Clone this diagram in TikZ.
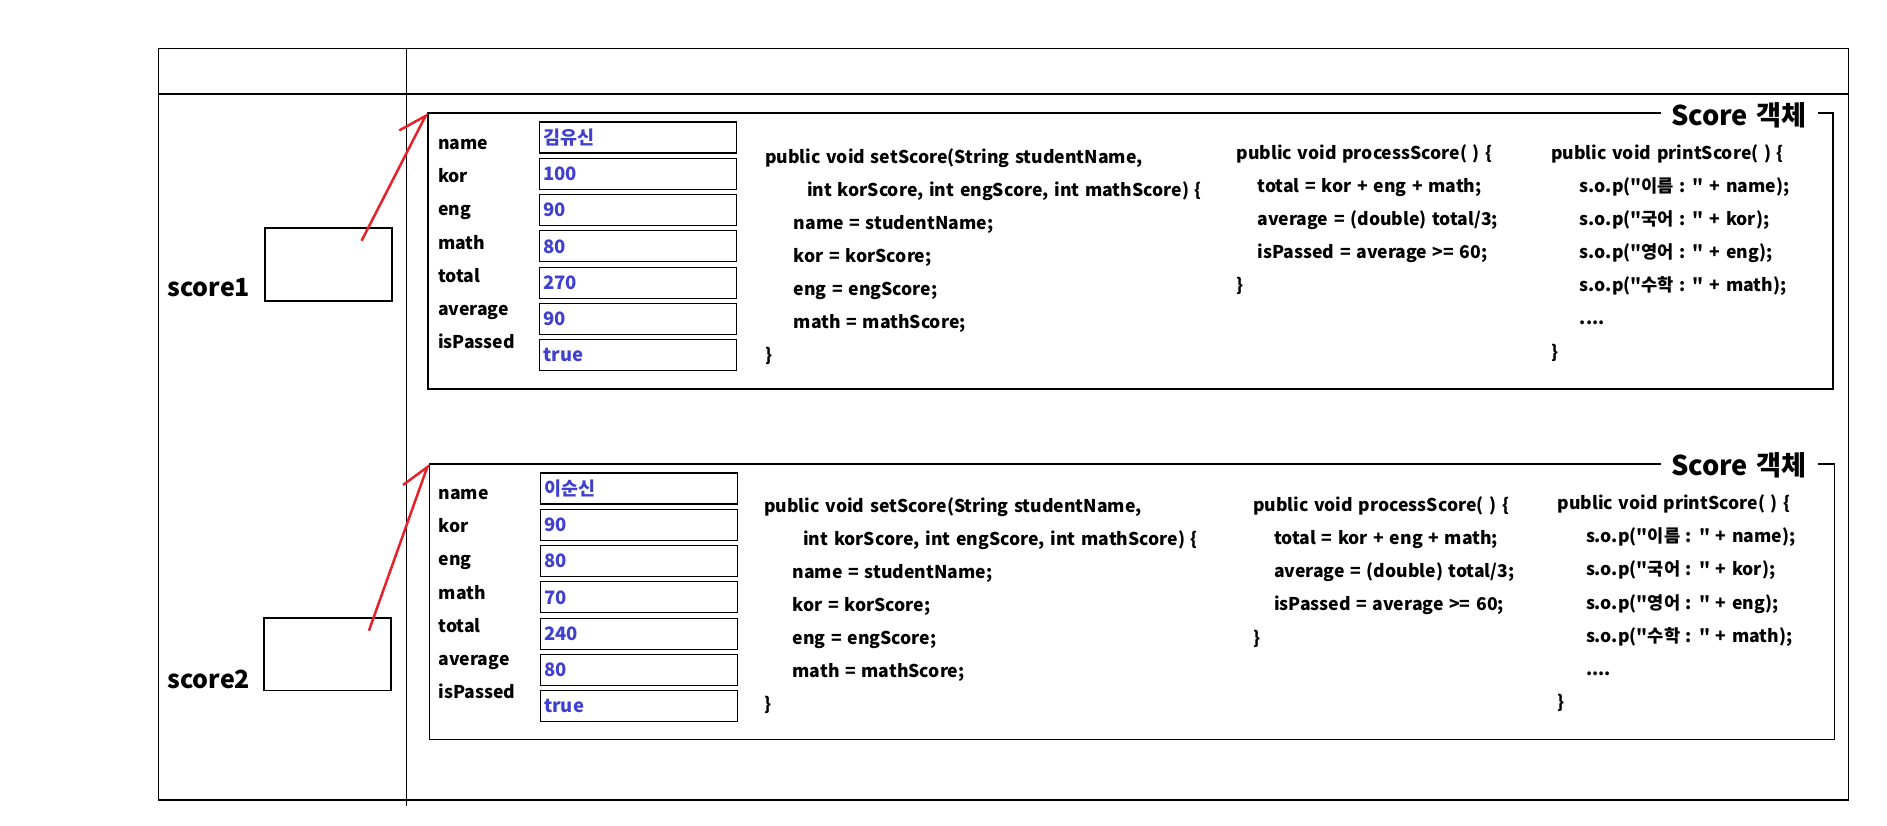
\documentclass[tikz,border=0pt]{standalone}
\usepackage{fontspec}
\newfontfamily\krfont{Noto Sans CJK KR}[WordSpace=1.4]
\usepackage{tikz}
\usetikzlibrary{arrows.meta}
\usetikzlibrary{positioning}

\definecolor{valblue}{RGB}{64,64,208}
\definecolor{ptrred}{RGB}{232,32,42}

\tikzset{
    varbox/.style={draw, line width=1.2pt, anchor=north west, inner sep=0pt, minimum width=127pt, minimum height=73pt},
    objbox/.style={draw, line width=1.2pt, anchor=north west, inner sep=0pt, minimum width=1405pt, minimum height=276pt},
    valbox/.style={draw, line width=1.2pt, anchor=north west, minimum width=197pt, minimum height=31pt, text width=189pt, inner xsep=4pt, inner ysep=0pt, align=left, text=valblue, font=\krfont\fontsize{18.5}{20}\selectfont\bfseries},
    codetext/.style={anchor=base west, inner sep=0pt, align=left, font=\krfont\fontsize{17.6}{33.1}\selectfont\bfseries},
    varname/.style={anchor=base west, inner sep=0pt, font=\krfont\fontsize{25}{30}\selectfont\bfseries},
    objtitle/.style={anchor=base west, fill=white, inner xsep=10.6pt, inner ysep=3pt, font=\krfont\fontsize{27.2}{30}\selectfont\bfseries},
    pointer/.style={draw=ptrred, line width=2.5pt, -{Straight Barb[harpoon, angle=68:30pt]}}
}

\begin{document}
\begin{tikzpicture}[x=1pt, y=-1pt]
    \useasboundingbox (0,0) rectangle (1887,825);
    \draw[line width=1.2pt] (158.4,48.3) rectangle (1848.7,800);
    \draw[line width=1.2pt] (158.4,94) -- (1848.7,94);
    \draw[line width=1.2pt] (406.4,48.3) -- (406.4,805.7);

    \node[varname] (name1) at (167.2,296.7) {score1};
    \node[varbox] (ref1) at (264.4,227.3) {};
    \node[varname] (name2) at (167.2,688.3) {score2};
    \node[varbox, minimum height=72.7pt] (ref2) at (263.3,617.3) {};

    \node[objbox] (obj1) at (427.4,112.3) {};
    \node[objtitle] (title1) at (1660.4,125.7) {Score 객체};
    \node[codetext] (fields1) at (437.8,348.3) {name\\kor\\eng\\math\\total\\average\\isPassed};
    \foreach \v [count=\i from 0] in {김유신,100,90,80,270,90,true}
        \node[valbox] (s1v\i) at (538.6,121.3+36.33*\i) {\v};
    \node[codetext] (set1) at (764.9,361.7) {public void setScore(String studentName,\\
        \hspace*{42pt}int korScore, int engScore, int mathScore) \{\\
        \hspace*{28.7pt}name = studentName;\\
        \hspace*{28.7pt}kor = korScore;\\
        \hspace*{28.7pt}eng = engScore;\\
        \hspace*{28.7pt}math = mathScore;\\
        \}};
    \node[codetext] (proc1) at (1236.3,291.7) {public void processScore( ) \{\\
        \hspace*{21.1pt}total = kor + eng + math;\\
        \hspace*{21.1pt}average = (double) total/3;\\
        \hspace*{21.1pt}isPassed = average >= 60;\\
        \}};
    \node[codetext] (print1) at (1551,358) {public void printScore( ) \{\\
        \hspace*{28.7pt}s.o.p("이름 : " + name);\\
        \hspace*{28.7pt}s.o.p("국어 : " + kor);\\
        \hspace*{28.7pt}s.o.p("영어 : " + eng);\\
        \hspace*{28.7pt}s.o.p("수학 : " + math);\\
        \hspace*{28.7pt}....\\
        \}};

    \node[objbox, minimum height=275.7pt] (obj2) at (428.6,463.3) {};
    \node[objtitle] (title2) at (1660.4,475) {Score 객체};
    \node[codetext] (fields2) at (438.5,698.3) {name\\kor\\eng\\math\\total\\average\\isPassed};
    \foreach \v [count=\i from 0] in {이순신,90,80,70,240,80,true}
        \node[valbox] (s2v\i) at (539.5,472.3+36.33*\i) {\v};
    \node[codetext] (set2) at (764.1,710.7) {public void setScore(String studentName,\\
        \hspace*{39pt}int korScore, int engScore, int mathScore) \{\\
        \hspace*{28.3pt}name = studentName;\\
        \hspace*{28.3pt}kor = korScore;\\
        \hspace*{28.3pt}eng = engScore;\\
        \hspace*{28.3pt}math = mathScore;\\
        \}};
    \node[codetext] (proc2) at (1252.8,644) {public void processScore( ) \{\\
        \hspace*{21pt}total = kor + eng + math;\\
        \hspace*{21pt}average = (double) total/3;\\
        \hspace*{21pt}isPassed = average >= 60;\\
        \}};
    \node[codetext] (print2) at (1557.4,708.3) {public void printScore( ) \{\\
        \hspace*{28.4pt}s.o.p("이름 : " + name);\\
        \hspace*{28.4pt}s.o.p("국어 : " + kor);\\
        \hspace*{28.4pt}s.o.p("영어 : " + eng);\\
        \hspace*{28.4pt}s.o.p("수학 : " + math);\\
        \hspace*{28.4pt}....\\
        \}};

    \coordinate (from1) at (361.6,240.7);
    \coordinate (from2) at (368.9,630.7);
    \draw[pointer] (from1) -- (obj1.north west);
    \draw[pointer] (from2) -- (obj2.north west);
\end{tikzpicture}
\end{document}
